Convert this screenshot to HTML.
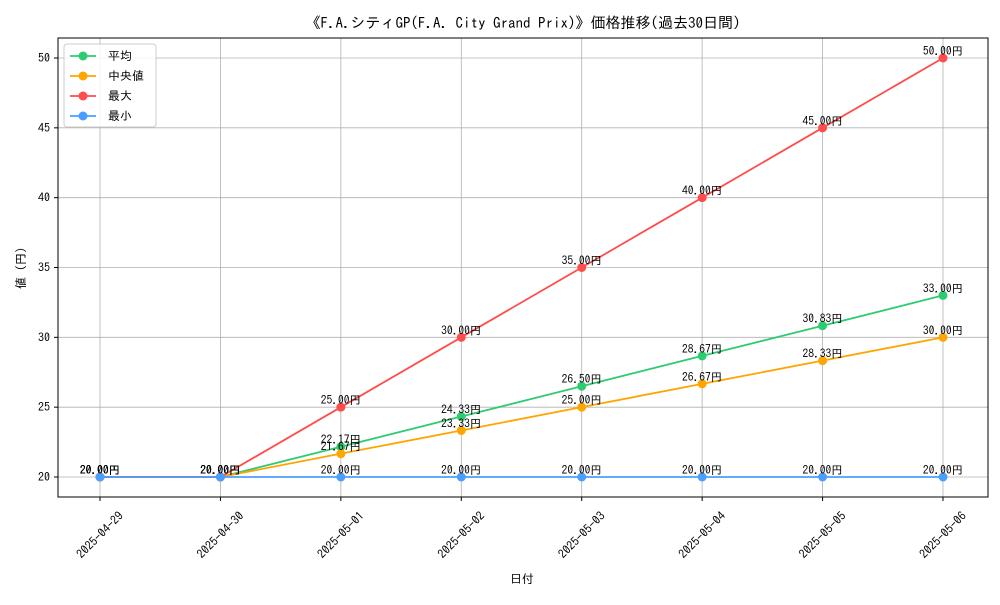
<!DOCTYPE html>
<html><head><meta charset="utf-8"><style>
body{margin:0;background:#fff}
svg text{font-family:"IPAGothic","Liberation Sans","Noto Sans CJK JP",sans-serif}
</style></head><body>
<svg id="chart" width="1000" height="600" xmlns="http://www.w3.org/2000/svg">
<rect width="1000" height="600" fill="#fff"/>
<text x="523" y="28" font-size="15" text-anchor="middle">《F.A.シティGP(F.A. City Grand Prix)》価格推移(過去30日間)</text>
<g id="grid"></g>
<rect x="58" y="38" width="930" height="459" fill="none" stroke="#000" stroke-width="1"/>
<g id="axes"></g>
<g id="series"></g>
<text x="522" y="583" font-size="12" text-anchor="middle">日付</text>
<text x="25" y="268" font-size="12" text-anchor="middle" transform="rotate(-90 25 268)">値 (円)</text>
<g id="legend">
<rect x="64" y="44" width="92" height="83" fill="#fff" fill-opacity="0.85" stroke="#ccc" rx="3"/>
</g>
</svg>
<script>
const categories=["2025-04-29","2025-04-30","2025-05-01","2025-05-02","2025-05-03","2025-05-04","2025-05-05","2025-05-06"];
const avgValues=[20,20,22.17,24.33,26.5,28.67,30.83,33];
const medianValues=[20,20,21.67,23.33,25,26.67,28.33,30];
const maxValues=[20,20,25,30,35,40,45,50];
const minValues=[20,20,20,20,20,20,20,20];
const yTicks=[20,25,30,35,40,45,50];
const seriesNames=["平均","中央値","最大","最小"];
const NS="http://www.w3.org/2000/svg";
const xS=i=>100+i*(943-100)/7;
const yS=v=>477-(v-20)*(477-58)/30;
function mk(tag,attrs,parent){const e=document.createElementNS(NS,tag);for(const k in attrs)e.setAttribute(k,attrs[k]);parent.appendChild(e);return e;}
const grid=document.getElementById('grid'),axes=document.getElementById('axes'),ser=document.getElementById('series'),leg=document.getElementById('legend');
categories.forEach((c,i)=>{
 const x=xS(i);
 const l=mk('line',{x1:x,x2:x,y1:38,y2:497,stroke:'#b0b0b0','stroke-width':0.8},grid);
 
 mk('line',{x1:x,x2:x,y1:497,y2:501,stroke:'#000'},axes);
 const t=mk('text',{x:x,y:539,'font-size':12,'text-anchor':'middle',transform:`rotate(-45 ${x} 535)`},axes);
 t.textContent=c;
});
yTicks.forEach(v=>{
 const y=yS(v);
 const l=mk('line',{x1:58,x2:988,y1:y,y2:y,stroke:'#b0b0b0','stroke-width':0.8},grid);
 
 mk('line',{x1:54,x2:58,y1:y,y2:y,stroke:'#000'},axes);
 const t=mk('text',{x:50,y:y+4,'font-size':12,'text-anchor':'end'},axes);
 t.textContent=v;
});
const all=[avgValues,medianValues,maxValues,minValues];
const colors=["#2ecc71","#ffa500","#ff4c4c","#4a9eff"];
const keys=["avg","median","max","min"];
all.forEach((vals,s)=>{
 const g=mk('g',{},ser);
 
 const p=mk('polyline',{points:vals.map((v,i)=>xS(i)+','+yS(v)).join(' '),fill:'none',stroke:colors[s],'stroke-width':1.8},g);
 
 vals.forEach((v,i)=>{
  const c=mk('circle',{cx:xS(i),cy:yS(v),r:4.5,fill:colors[s]},g);
  
  const t=mk('text',{x:xS(i),y:yS(v)-3,'font-size':11.5,'text-anchor':'middle'},g);
  t.textContent=v.toFixed(2)+'円';
 });
 const ly=56+s*20;
 const ll=mk('line',{x1:70,x2:96,y1:ly,y2:ly,stroke:colors[s],'stroke-width':1.8},leg);
 
 const lc=mk('circle',{cx:83,cy:ly,r:4.5,fill:colors[s]},leg);
 
 const lt=mk('text',{x:108,y:ly+4,'font-size':12},leg);
 lt.textContent=seriesNames[s];
});
</script>
</body></html>
